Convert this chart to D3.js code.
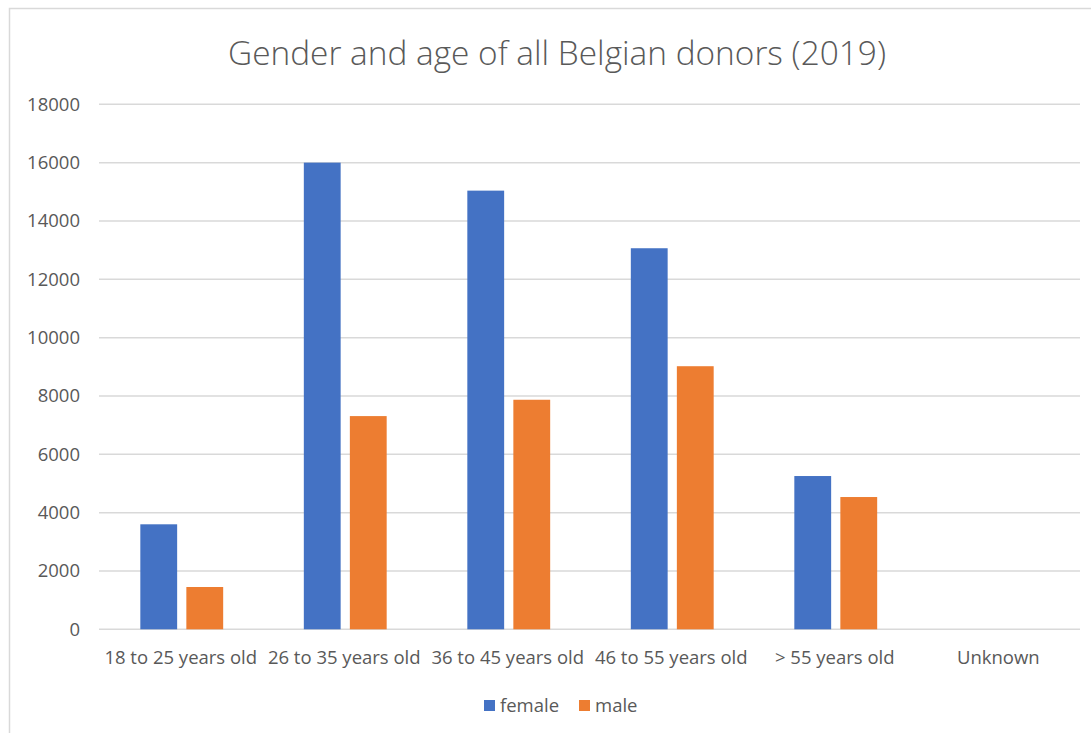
<!DOCTYPE html>
<html>
<head>
<meta charset="utf-8">
<script src="https://cdn.jsdelivr.net/npm/d3@7"></script>
<style>
  body { margin: 0; background: #fff; }
  text { font-family: "Open Sans", "Noto Sans", sans-serif; fill: #595959; }
</style>
</head>
<body>
<script>
// data
var categories = ["18 to 25 years old", "26 to 35 years old", "36 to 45 years old",
                  "46 to 55 years old", "> 55 years old", "Unknown"];
var female = [3600, 16000, 15040, 13065, 5255, 0];
var male = [1450, 7310, 7870, 9020, 4535, 0];
var seriesNames = ["female", "male"];
var colors = ["#4472C4", "#ED7D31"];
var yTicks = [0, 2000, 4000, 6000, 8000, 10000, 12000, 14000, 16000, 18000];

var w = 1091;
var h = 733;
var plotLeft = 99, plotRight = 1080, plotTop = 104.3, plotBottom = 629.3;

var svg = d3.select("body").append("svg")
            .attr("width", w)
            .attr("height", h);

// chart border (Excel chart area)
svg.append("rect")
    .attr("x", 9.5).attr("y", 8.5)
    .attr("width", w + 20).attr("height", h + 20)
    .attr("fill", "#fff")
    .attr("stroke", "#d9d9d9")
    .attr("stroke-width", 1.5);

svg.append("text")
    .text("Gender and age of all Belgian donors (2019)")
    .attr("x", 557)
    .attr("y", 65)
    .attr("text-anchor", "middle")
    .attr("font-weight", 300)
    .attr("font-size", "33.4px");

var y = d3.scaleLinear().domain([0, 18000]).range([plotBottom, plotTop]);
var x = d3.scaleBand().domain(categories).range([plotLeft, plotRight]);
// Excel gap width ~219%, overlap ~-25%
var barW = x.bandwidth() / 4.44;
var xs = d3.scaleBand().domain(seriesNames)
           .range([barW * 2.19 / 2 + 1, barW * 2.19 / 2 + 1 + barW * 2.25])
           .paddingInner(0.25 / 1.25);

// gridlines
svg.append("g")
    .selectAll("line")
    .data(yTicks)
    .enter()
    .append("line")
    .attr("x1", plotLeft).attr("x2", plotRight)
    .attr("y1", function(d) { return y(d); })
    .attr("y2", function(d) { return y(d); })
    .attr("stroke", "#d9d9d9")
    .attr("stroke-width", 1.5);

var yAxis = svg.append("g")
    .attr("transform", "translate(" + (plotLeft - 19) + ",0)")
    .call(d3.axisLeft(y).tickValues(yTicks).tickSize(0).tickPadding(0).tickFormat(d3.format("d")));
yAxis.select(".domain").remove();
yAxis.selectAll("text")
    .attr("font-size", "18.5px")
    .attr("fill", "#595959")
    .attr("font-family", "'Open Sans', sans-serif");

var xAxis = svg.append("g")
    .attr("transform", "translate(0," + plotBottom + ")")
    .call(d3.axisBottom(x).tickSize(0).tickPadding(22));
xAxis.select(".domain").remove();
xAxis.selectAll("text")
    .attr("font-size", "18.5px")
    .attr("fill", "#595959")
    .attr("font-family", "'Open Sans', sans-serif");

var rows = categories.map(function(c, i) {
    return { cat: c, values: [female[i], male[i]] };
});

var groups = svg.append("g")
    .selectAll("g")
    .data(rows)
    .enter()
    .append("g")
    .attr("transform", function(d) { return "translate(" + x(d.cat) + ",0)"; });

groups.selectAll("rect")
    .data(function(d) {
        return d.values.map(function(v, i) { return { key: seriesNames[i], value: v, i: i }; });
    })
    .enter()
    .append("rect")
    .attr("x", function(d) { return xs(d.key); })
    .attr("y", function(d) { return y(d.value); })
    .attr("width", xs.bandwidth())
    .attr("height", function(d) { return plotBottom - y(d.value); })
    .attr("fill", function(d) { return colors[d.i]; });

// legend
var legendX = [484, 579];
var legend = svg.append("g")
    .selectAll("g")
    .data(seriesNames)
    .enter()
    .append("g")
    .attr("transform", function(d, i) { return "translate(" + legendX[i] + ",700)"; });

legend.append("rect")
    .attr("width", 11).attr("height", 11)
    .attr("fill", function(d, i) { return colors[i]; });

legend.append("text")
    .text(function(d) { return d; })
    .attr("x", 16)
    .attr("y", 12)
    .attr("font-size", "18.5px");
</script>
</body>
</html>
